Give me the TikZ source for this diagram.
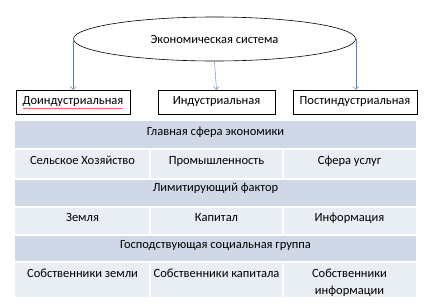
\documentclass[tikz,border=0pt]{standalone}
\usepackage{fontspec}
\setmainfont{Carlito}
\usetikzlibrary{positioning,arrows.meta,shapes.geometric,decorations.pathmorphing}
\definecolor{hdrblue}{RGB}{208,216,232}
\definecolor{rowblue}{RGB}{233,237,244}
\definecolor{arrblue}{RGB}{79,129,189}

\begin{document}
\begin{tikzpicture}[x=1pt, y=-1pt,
  eco/.style={draw, ellipse, semithick, minimum width=282pt, minimum height=44pt,
              inner sep=0pt, font=\fontsize{12.5}{14}\selectfont},
  stage/.style={draw, semithick, minimum height=24pt, inner sep=1pt,
                font=\fontsize{12.5}{14}\selectfont},
  cell/.style={anchor=base, align=center, inner sep=0pt,
               font=\fontsize{12.5}{17.5}\selectfont},
  arr/.style={-{Straight Barb[length=3pt,width=6pt]}, arrblue, thin},
]
\useasboundingbox (0,0) rectangle (426,303);

\node[eco] (eco) at (214.5,39) {Экономическая система};

\node[stage, minimum width=114pt] (pre)  at (73,102)  {Доиндустриальная};
\node[stage, minimum width=117pt] (ind)  at (216.5,102) {Индустриальная};
\node[stage, minimum width=124pt] (post) at (355,102) {Постиндустриальная};

\draw[red, decorate, decoration={snake, amplitude=0.6pt, segment length=2.5pt}]
  (23,108.5) -- (123,108.5);

\draw[arr] (eco.west) -- (eco.west |- pre.north);
\draw[arr] (eco.south) -- (ind.north);
\draw[arr] (eco.east) -- (eco.east |- post.north);

% table background
\foreach \top/\bot/\col in {121/149/hdrblue, 149/179/rowblue, 179/207/hdrblue,
                            207/235/rowblue, 235/262/hdrblue, 262/297/rowblue}
  \fill[\col] (15,\top) rectangle (416,\bot);
\foreach \y in {149,179,207,235,262}
  \draw[white, line width=1.2pt] (15,\y) -- (416,\y);
\foreach \top/\bot in {149/179, 207/235, 262/297}
  \foreach \x in {150,283}
    \draw[white, line width=1.2pt] (\x,\top) -- (\x,\bot);

\node[cell] (h1) at (215.5,135) {Главная сфера экономики};
\node[cell] (a1) at (82.5,164)  {Сельское Хозяйство};
\node[cell] (b1) at (216.5,164) {Промышленность};
\node[cell] (c1) at (349.5,164) {Сфера услуг};

\node[cell] (h2) at (215.5,191) {Лимитирующий фактор};
\node[cell] (a2) at (82.5,221)  {Земля};
\node[cell] (b2) at (216.5,221) {Капитал};
\node[cell] (c2) at (349.5,221) {Информация};

\node[cell] (h3) at (215.5,248) {Господствующая социальная группа};
\node[cell] (a3) at (82.5,277)  {Собственники земли};
\node[cell] (b3) at (216.5,277) {Собственники капитала};
\node[cell] (c3) at (349.5,294.5) {Собственники\\информации};
\end{tikzpicture}
\end{document}
